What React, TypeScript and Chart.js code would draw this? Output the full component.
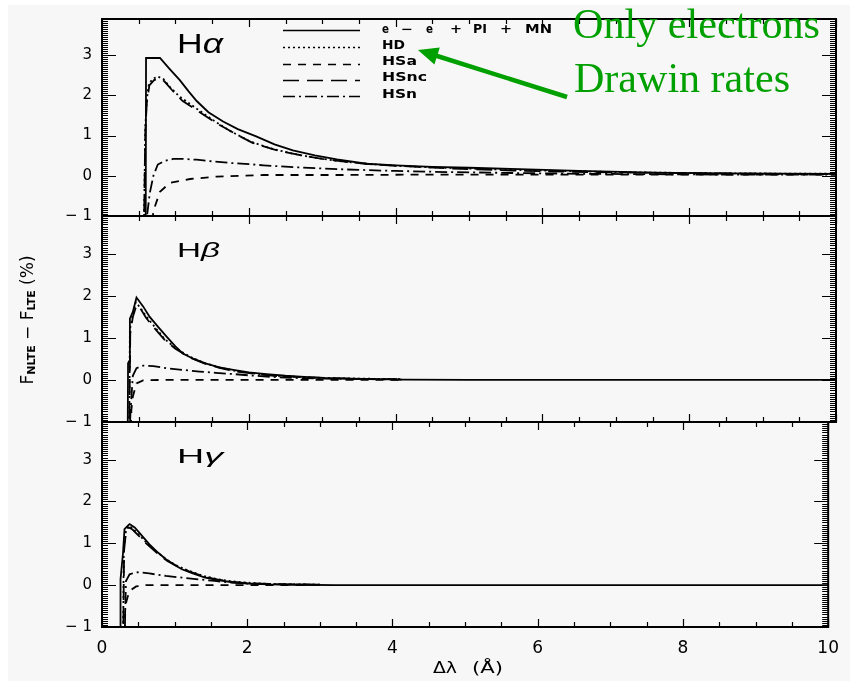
import React, { useEffect, useRef } from 'react';
import { Chart, registerables } from 'chart.js';

Chart.register(...registerables);

// ---------- data ----------
const X_TICKS = [0, 2, 4, 6, 8, 10];
const Y_TICKS = [-1, 0, 1, 2, 3];
const SERIES_LABELS = ['e − e + PI + MN', 'HD', 'HSa', 'HSnc', 'HSn'];
const PANEL_GREEK = ['α', 'β', 'γ'];

// H alpha
const HA_EE_X = [0.595, 0.6, 0.79, 0.92, 1.06, 1.18, 1.29, 1.45, 1.65, 1.85, 2.1, 2.35, 2.6, 2.9, 3.2, 3.6, 4.0, 4.5, 5.0, 5.8, 6.5, 7.5, 8.5, 10];
const HA_EE_Y = [-1.5, 2.93, 2.93, 2.66, 2.38, 2.1, 1.86, 1.58, 1.35, 1.16, 0.98, 0.78, 0.63, 0.51, 0.41, 0.3, 0.26, 0.22, 0.2, 0.16, 0.12, 0.08, 0.06, 0.05];
const HA_HD_X = [0.57, 0.59, 0.61, 0.64, 0.7, 0.76, 0.84, 0.92, 1.05, 1.29, 1.5, 1.74, 2.01, 2.3, 2.6, 2.9, 3.2, 3.6, 4.0, 4.5, 5.0, 5.8, 6.5, 7.5, 8.5, 10];
const HA_HD_Y = [-1.5, 1.2, 1.9, 2.3, 2.42, 2.47, 2.4, 2.22, 1.98, 1.67, 1.4, 1.12, 0.86, 0.68, 0.55, 0.45, 0.37, 0.3, 0.25, 0.21, 0.18, 0.14, 0.11, 0.08, 0.06, 0.05];
const HA_HSA_X = [0.67, 0.7, 0.79, 0.92, 1.2, 1.56, 2.2, 3.3, 4.5, 6.0, 8.0, 10];
const HA_HSA_Y = [-1.5, -0.87, -0.4, -0.18, -0.08, -0.02, 0.02, 0.02, 0.03, 0.03, 0.03, 0.03];
const HA_HSNC_X = [0.57, 0.59, 0.61, 0.645, 0.71, 0.77, 0.85, 0.95, 1.1, 1.3, 1.55, 1.8, 2.05, 2.35, 2.65, 3.0, 3.4, 3.8, 4.3, 4.9, 5.6, 6.4, 7.3, 8.3, 10];
const HA_HSNC_Y = [-1.5, 1.1, 1.8, 2.25, 2.38, 2.43, 2.35, 2.14, 1.86, 1.62, 1.32, 1.06, 0.82, 0.65, 0.53, 0.42, 0.33, 0.27, 0.22, 0.17, 0.13, 0.1, 0.08, 0.06, 0.04];
const HA_HSN_X = [0.58, 0.62, 0.65, 0.7, 0.76, 0.85, 0.97, 1.1, 1.29, 1.5, 1.74, 2.0, 2.2, 2.65, 3.29, 4.0, 4.8, 5.6, 6.5, 7.5, 8.5, 10];
const HA_HSN_Y = [-1.5, -0.9, -0.44, 0.0, 0.28, 0.37, 0.42, 0.42, 0.4, 0.36, 0.32, 0.29, 0.26, 0.21, 0.16, 0.12, 0.09, 0.07, 0.05, 0.04, 0.03, 0.03];

// H beta
const HB_EE_X = [0.35, 0.355, 0.37, 0.38, 0.42, 0.47, 0.56, 0.65, 0.77, 0.88, 1.0, 1.1, 1.25, 1.42, 1.6, 1.79, 2.0, 2.24, 2.5, 2.7, 3.0, 3.4, 4.1, 5, 6, 8, 10];
const HB_EE_Y = [-1.5, 0.4, 0.45, 1.46, 1.62, 1.96, 1.75, 1.5, 1.25, 1.03, 0.8, 0.63, 0.5, 0.39, 0.3, 0.24, 0.18, 0.14, 0.1, 0.08, 0.05, 0.03, 0.01, 0, 0, 0, 0];
const HB_HD_X = [0.37, 0.38, 0.42, 0.46, 0.52, 0.6, 0.7, 0.85, 1.0, 1.2, 1.4, 1.6, 1.8, 2.1, 2.4, 2.8, 3.2, 3.6, 4.1];
const HB_HD_Y = [-1.5, 1.2, 1.55, 1.85, 1.72, 1.52, 1.3, 0.98, 0.76, 0.55, 0.4, 0.3, 0.22, 0.15, 0.1, 0.06, 0.04, 0.03, 0.02];
const HB_HSA_X = [0.39, 0.4, 0.42, 0.47, 0.56, 0.8, 1.2, 2.0, 3.0, 4.1];
const HB_HSA_Y = [-1.5, -0.71, -0.4, -0.08, -0.01, 0, 0, 0, 0, 0];
const HB_HSNC_X = [0.37, 0.385, 0.42, 0.47, 0.53, 0.6, 0.7, 0.85, 1.0, 1.2, 1.4, 1.6, 1.8, 2.1, 2.4, 2.8, 3.2, 3.6, 4.1];
const HB_HSNC_Y = [-1.5, 1.1, 1.5, 1.78, 1.68, 1.48, 1.26, 0.96, 0.74, 0.53, 0.39, 0.29, 0.21, 0.14, 0.09, 0.06, 0.04, 0.02, 0.02];
const HB_HSN_X = [0.37, 0.39, 0.42, 0.47, 0.56, 0.7, 0.88, 1.1, 1.33, 1.55, 1.79, 2.0, 2.24, 2.6, 3.0, 3.5, 4.1];
const HB_HSN_Y = [-1.5, -0.7, 0.1, 0.28, 0.34, 0.33, 0.28, 0.24, 0.2, 0.17, 0.14, 0.11, 0.08, 0.05, 0.03, 0.02, 0.01];

// H gamma
const HG_EE_X = [0.25, 0.255, 0.29, 0.31, 0.36, 0.38, 0.45, 0.51, 0.65, 0.77, 0.88, 1.0, 1.1, 1.25, 1.42, 1.6, 1.79, 2.0, 2.3, 2.7, 3.2, 4, 6, 8, 10];
const HG_EE_Y = [-1.5, 0.14, 0.78, 1.34, 1.43, 1.46, 1.38, 1.26, 0.98, 0.78, 0.62, 0.48, 0.38, 0.28, 0.18, 0.12, 0.07, 0.04, 0.02, 0.01, 0, 0, 0, 0, 0];
const HG_HD_X = [0.29, 0.3, 0.33, 0.37, 0.42, 0.5, 0.6, 0.75, 0.9, 1.05, 1.2, 1.4, 1.6, 1.8, 2.0, 2.3, 2.6, 3.0];
const HG_HD_Y = [-1.5, 0.9, 1.3, 1.42, 1.36, 1.22, 1.04, 0.8, 0.6, 0.45, 0.34, 0.22, 0.14, 0.09, 0.06, 0.03, 0.02, 0.01];
const HG_HSA_X = [0.31, 0.32, 0.35, 0.38, 0.47, 0.6, 0.9, 1.5, 2.2, 3.0];
const HG_HSA_Y = [-1.5, -0.5, -0.3, -0.14, -0.03, 0, 0, 0, 0, 0];
const HG_HSNC_X = [0.29, 0.305, 0.33, 0.37, 0.42, 0.5, 0.6, 0.75, 0.9, 1.05, 1.2, 1.4, 1.6, 1.8, 2.0, 2.3, 2.6, 3.0];
const HG_HSNC_Y = [-1.5, 0.85, 1.25, 1.38, 1.33, 1.19, 1.01, 0.78, 0.58, 0.44, 0.33, 0.21, 0.13, 0.08, 0.05, 0.03, 0.02, 0.01];
const HG_HSN_X = [0.31, 0.32, 0.33, 0.38, 0.47, 0.56, 0.65, 0.88, 1.1, 1.33, 1.55, 1.79, 2.1, 2.5, 3.0];
const HG_HSN_Y = [-1.5, -0.6, 0.1, 0.26, 0.31, 0.3, 0.28, 0.22, 0.18, 0.14, 0.1, 0.06, 0.03, 0.02, 0.01];

const PANELS = [
  { xs: [HA_EE_X, HA_HD_X, HA_HSA_X, HA_HSNC_X, HA_HSN_X], ys: [HA_EE_Y, HA_HD_Y, HA_HSA_Y, HA_HSNC_Y, HA_HSN_Y] },
  { xs: [HB_EE_X, HB_HD_X, HB_HSA_X, HB_HSNC_X, HB_HSN_X], ys: [HB_EE_Y, HB_HD_Y, HB_HSA_Y, HB_HSNC_Y, HB_HSN_Y] },
  { xs: [HG_EE_X, HG_HD_X, HG_HSA_X, HG_HSNC_X, HG_HSN_X], ys: [HG_EE_Y, HG_HD_Y, HG_HSA_Y, HG_HSNC_Y, HG_HSN_Y] },
];

// ---------- styles / layout ----------
const SERIES_DASH = [[], [2, 3], [8, 7], [16, 8], [12, 4, 2, 4]];
const W = 850;
const H = 681;
const PLOT_LEFT = 102;
const PLOT_RIGHT = 836;
const PANEL_TOP = [12, 216, 422];
const PANEL_BOTTOM = [216, 422, 627];
const Y_MIN = -1;
const Y_MAX = 3.9;
const LEGEND_X0 = 283;
const LEGEND_X1 = 360;
const LEGEND_LINE_Y = [30, 47, 64, 80, 96];
const LEGEND_TEXT_X = 382;
const LEGEND_TEXT_Y = [32.5, 48.5, 65, 81, 97.5];
const LEGEND_TEXT_LEN = [170, 23, 35, 45, 35];
// first legend label is drawn token by token to keep the wide IDL spacing
const LEGEND_FIRST_TOKENS = ['e', '−', 'e', '+', 'PI', '+', 'MN'];
const LEGEND_FIRST_TOKEN_X = [382, 401, 426, 450, 473, 500, 525];
const LEGEND_FIRST_TOKEN_LEN = [7, 12, 7, 12, 14, 12, 27];
const GREEN = '#00a000';
const BG = '#f7f7f7';

const idlFrame = {
  id: 'idlFrame',
  afterDatasetsDraw(chart: any, _args: any, opts: any) {
    const { ctx, chartArea: a, scales } = chart;
    const x = scales.x;
    const y = scales.y;
    ctx.save();
    ctx.strokeStyle = '#000';
    ctx.setLineDash([]);
    ctx.lineWidth = 1.2;
    ctx.beginPath();
    for (let k = 0; k <= 20; k++) {
      const px = Math.round(x.getPixelForValue(k * 0.5)) + 0.5;
      const len = k % 4 === 0 ? 8 : 5;
      ctx.moveTo(px, a.bottom);
      ctx.lineTo(px, a.bottom - len);
      ctx.moveTo(px, a.top);
      ctx.lineTo(px, a.top + len);
    }
    ctx.stroke();
    ctx.lineWidth = 1;
    ctx.beginPath();
    for (let k = 0; k <= 98; k++) {
      const py = Math.round(y.getPixelForValue(Y_MIN + k * 0.05)) + 0.5;
      const len = k % 20 === 0 ? 14 : 6;
      ctx.moveTo(a.left, py);
      ctx.lineTo(a.left + len, py);
      ctx.moveTo(a.right, py);
      ctx.lineTo(a.right - len, py);
    }
    ctx.stroke();
    ctx.lineWidth = 2;
    ctx.strokeRect(a.left, a.top, a.right - a.left, a.bottom - a.top);
    if (opts && opts.legend) {
      ctx.lineWidth = 1.5;
      chart.data.datasets.forEach((ds: any, i: number) => {
        ctx.setLineDash(ds.borderDash || []);
        ctx.beginPath();
        ctx.moveTo(LEGEND_X0, LEGEND_LINE_Y[i] + 0.5);
        ctx.lineTo(LEGEND_X1, LEGEND_LINE_Y[i] + 0.5);
        ctx.stroke();
      });
    }
    ctx.restore();
  },
};

function buildConfig(i: number): any {
  const p = PANELS[i];
  const isBottom = i === PANELS.length - 1;
  return {
    type: 'scatter',
    data: {
      datasets: SERIES_LABELS.map((label, s) => ({
        label,
        data: p.xs[s].map((xv, k) => ({ x: xv, y: p.ys[s][k] })),
        showLine: true,
        borderColor: '#000',
        backgroundColor: '#000',
        borderWidth: 1.8,
        borderDash: SERIES_DASH[s],
        pointRadius: 0,
        pointHoverRadius: 0,
        tension: 0,
        fill: false,
      })),
    },
    options: {
      animation: false,
      responsive: false,
      devicePixelRatio: 1,
      events: [],
      layout: {
        padding: {
          left: 0,
          right: W - PLOT_RIGHT,
          top: PANEL_TOP[i],
          bottom: isBottom ? 0 : H - PANEL_BOTTOM[i],
        },
      },
      plugins: {
        legend: { display: false },
        tooltip: { enabled: false },
        idlFrame: { legend: i === 0 },
      },
      scales: {
        x: {
          type: 'linear',
          min: 0,
          max: 10,
          display: isBottom,
          grid: { display: false, drawTicks: false },
          border: { display: false },
          afterBuildTicks: (s: any) => {
            s.ticks = X_TICKS.map((v) => ({ value: v }));
          },
          ticks: {
            color: '#000',
            font: { family: 'DejaVu Sans', size: 17 },
            padding: 11,
            maxRotation: 0,
            autoSkip: false,
          },
          afterFit: (s: any) => {
            if (isBottom) s.height = H - PANEL_BOTTOM[i];
          },
        },
        y: {
          type: 'linear',
          min: Y_MIN,
          max: Y_MAX,
          grid: { display: false, drawTicks: false },
          border: { display: false },
          afterBuildTicks: (s: any) => {
            s.ticks = Y_TICKS.map((v) => ({ value: v }));
          },
          ticks: {
            color: '#000',
            font: { family: 'DejaVu Sans', size: 15 },
            padding: 10,
            callback: (v: number) => (v < 0 ? '− ' + Math.abs(v) : String(v)),
          },
          afterFit: (s: any) => {
            s.width = PLOT_LEFT;
          },
        },
      },
    },
    plugins: [idlFrame],
  };
}

function Panel({ index }: { index: number }) {
  const ref = useRef<HTMLCanvasElement>(null);
  useEffect(() => {
    const chart = new Chart(ref.current as HTMLCanvasElement, buildConfig(index));
    return () => chart.destroy();
  }, [index]);
  return (
    <canvas
      ref={ref}
      width={W}
      height={H}
      style={{ position: 'absolute', left: 0, top: 0, width: W, height: H }}
    />
  );
}

const PANEL_LABEL_LAYOUT = [
  { x: 177, y: 53, size: 27, len: 46 },
  { x: 177, y: 257, size: 20, len: 43 },
  { x: 177, y: 463, size: 20, len: 46 },
];

export default function App() {
  return (
    <div style={{ position: 'fixed', left: 0, top: 0, width: W, height: H, background: '#fff', overflow: 'hidden' }}>
      <div style={{ position: 'absolute', left: 8, top: 5, right: 0, bottom: 0, background: BG }} />
      {PANELS.map((_, i) => (
        <Panel key={i} index={i} />
      ))}
      <svg width={W} height={H} style={{ position: 'absolute', left: 0, top: 0, pointerEvents: 'none' }}>
        {PANEL_LABEL_LAYOUT.map((l, i) => (
          <text
            key={i}
            x={l.x}
            y={l.y}
            fontFamily="Liberation Sans"
            fontSize={l.size}
            fill="#000"
            textLength={l.len}
            lengthAdjust="spacingAndGlyphs"
          >
            H<tspan fontStyle="italic">{PANEL_GREEK[i]}</tspan>
          </text>
        ))}
        <text fontFamily="DejaVu Sans" fontSize={11.5} fontWeight="bold" fill="#000" aria-label={SERIES_LABELS[0]}>
          {LEGEND_FIRST_TOKENS.map((t, k) => (
            <tspan
              key={k}
              x={LEGEND_FIRST_TOKEN_X[k]}
              y={LEGEND_TEXT_Y[0]}
              textLength={LEGEND_FIRST_TOKEN_LEN[k]}
              lengthAdjust="spacingAndGlyphs"
            >
              {t}
            </tspan>
          ))}
        </text>
        {SERIES_LABELS.slice(1).map((lab, j) => (
          <text
            key={lab}
            x={LEGEND_TEXT_X}
            y={LEGEND_TEXT_Y[j + 1]}
            fontFamily="DejaVu Sans"
            fontSize={11.5}
            fontWeight="bold"
            fill="#000"
            textLength={LEGEND_TEXT_LEN[j + 1]}
            lengthAdjust="spacingAndGlyphs"
          >
            {lab}
          </text>
        ))}
        <text fontFamily="DejaVu Sans" fontSize={15} fill="#000">
          <tspan x={433} y={673} textLength={24} lengthAdjust="spacingAndGlyphs">Δλ</tspan>
          <tspan x={472} y={673} textLength={31} lengthAdjust="spacingAndGlyphs">(Å)</tspan>
        </text>
        <text
          transform="translate(33,320) rotate(-90)"
          x={0}
          y={0}
          textAnchor="middle"
          fontFamily="DejaVu Sans"
          fontSize={17}
          fill="#000"
        >
          F<tspan fontSize={11} fontWeight="bold" dy={2}>NLTE</tspan>
          <tspan dy={-2}> − F</tspan>
          <tspan fontSize={11} fontWeight="bold" dy={2}>LTE</tspan>
          <tspan dy={-2}> (%)</tspan>
        </text>
        <line x1={567} y1={97} x2={434} y2={55} stroke={GREEN} strokeWidth={4.5} />
        <polygon points="418,50 434.4,64.6 439.8,47.4" fill={GREEN} />
        <text x={573} y={38} fontFamily="Liberation Serif" fontSize={42} fill={GREEN} textLength={247} lengthAdjust="spacingAndGlyphs">
          Only electrons
        </text>
        <text x={574} y={92} fontFamily="Liberation Serif" fontSize={42} fill={GREEN} textLength={216} lengthAdjust="spacingAndGlyphs">
          Drawin rates
        </text>
      </svg>
    </div>
  );
}
